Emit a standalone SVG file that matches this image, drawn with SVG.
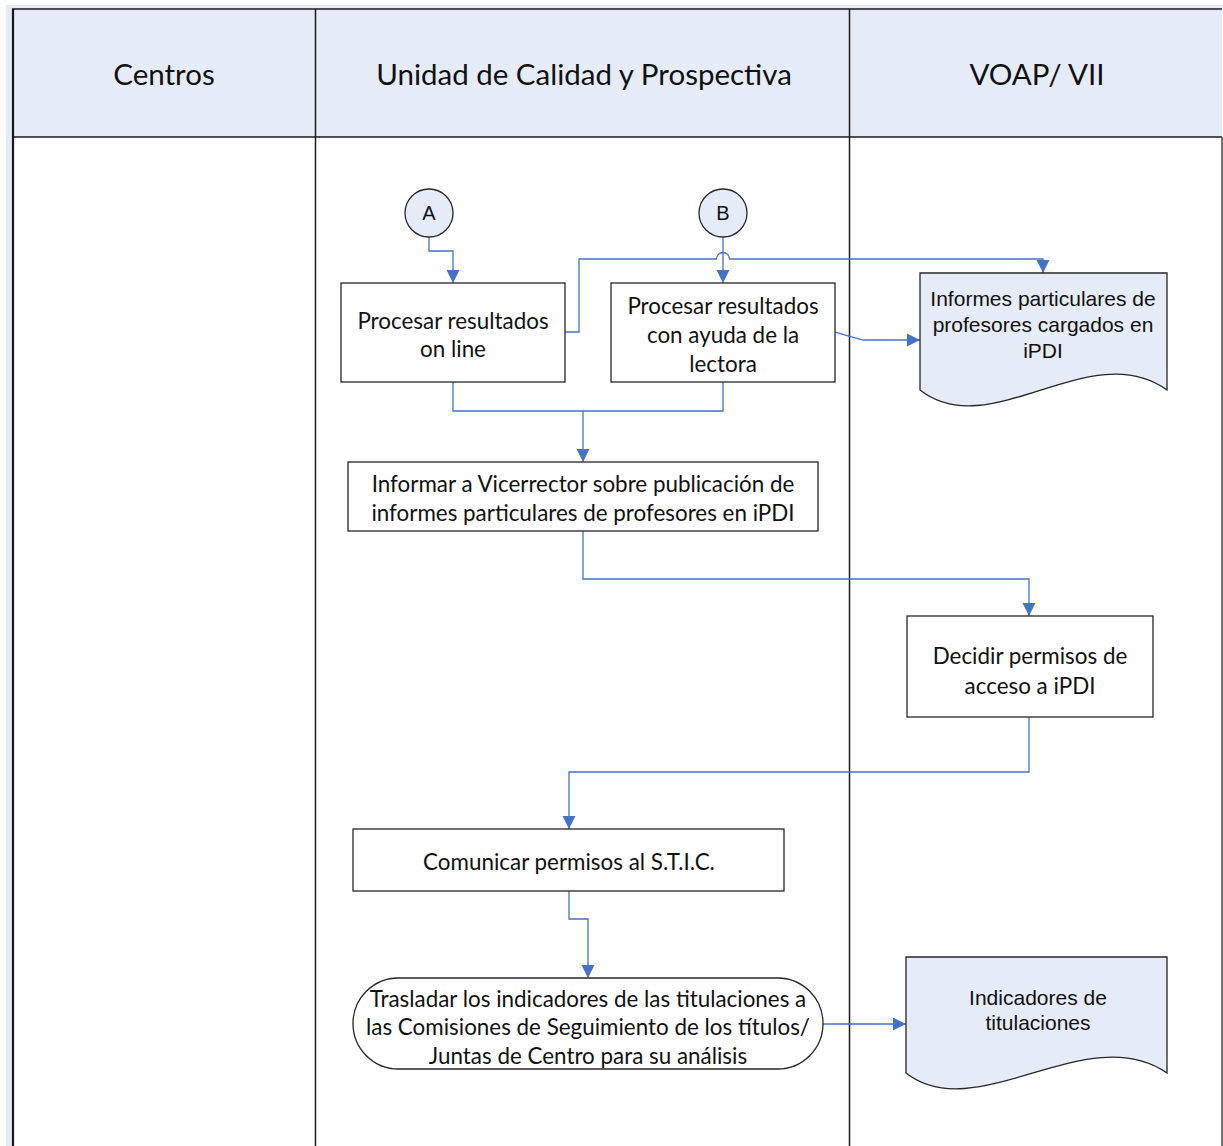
<svg xmlns="http://www.w3.org/2000/svg" width="1223" height="1146" viewBox="0 0 1223 1146">
<style>
.lane{stroke:#1a1a1a;stroke-width:1.5;fill:none}
.box{fill:#ffffff;stroke:#262626;stroke-width:1.3}
.doc{fill:#E6ECF7;stroke:#262626;stroke-width:1.3}
.conn{fill:none;stroke:#4472C4;stroke-width:1.3}
.hdr{font-family:Lato,"Liberation Sans",sans-serif;font-size:29.5px;fill:#111;text-anchor:middle;dominant-baseline:central}
.t{font-family:Lato,"Liberation Sans",sans-serif;font-size:22.4px;fill:#111;text-anchor:middle;dominant-baseline:central}
.a{font-family:"Liberation Sans",Arial,sans-serif;font-size:21px;fill:#111;text-anchor:middle;dominant-baseline:central}
</style>
<defs>
<marker id="arr" markerUnits="userSpaceOnUse" markerWidth="14" markerHeight="14" refX="13" refY="6.5" orient="auto">
<path d="M0,0 L13,6.5 L0,13 z" fill="#4472C4"/>
</marker>
</defs>
<rect width="1223" height="1146" fill="#ffffff"/>
<g id="lanes">
<rect x="6" y="5" width="1217" height="4" fill="#E6ECF7"/>
<rect x="6" y="5" width="6" height="1141" fill="#E6ECF7"/>
<rect x="13" y="9" width="1209" height="128" fill="#E6ECF7"/>
<line class="lane" x1="12" y1="9" x2="1222" y2="9" stroke="#555"/>
<line class="lane" x1="13" y1="9" x2="13" y2="1146" style="stroke-width:2.2"/>
<line class="lane" x1="12" y1="137" x2="1222" y2="137"/>
<line class="lane" x1="315.5" y1="9" x2="315.5" y2="1146"/>
<line class="lane" x1="849.5" y1="9" x2="849.5" y2="1146"/>
<line class="lane" x1="1222" y1="137" x2="1222" y2="1146" style="stroke:#444"/>
<text class="hdr" x="164" y="73">Centros</text>
<text class="hdr" x="584" y="73">Unidad de Calidad y Prospectiva</text>
<text class="hdr" x="1037" y="73">VOAP/ VII</text>
</g>
<g id="connectors">
<path class="conn" d="M429,237 V251 H453 V283" marker-end="url(#arr)"/>
<path class="conn" d="M723,237 V283" marker-end="url(#arr)"/>
<path class="conn" d="M565,332 H579 V259 H716.5 A6.5,6.5 0 0 1 729.5,259 H1043 V273" marker-end="url(#arr)"/>
<path class="conn" d="M835,332 L863,340 H920" marker-end="url(#arr)"/>
<path class="conn" d="M453,382 V411 H723 V382"/>
<path class="conn" d="M583,411 V462" marker-end="url(#arr)"/>
<path class="conn" d="M583,531 V579 H1029 V616" marker-end="url(#arr)"/>
<path class="conn" d="M1029,717 V772 H569 V829" marker-end="url(#arr)"/>
<path class="conn" d="M569,891 V919 H588 V978" marker-end="url(#arr)"/>
<path class="conn" d="M823,1024 H906" marker-end="url(#arr)"/>
</g>
<g id="nodeA">
<circle class="doc" cx="429" cy="213" r="24"/>
<text class="a" x="429" y="213" style="font-size:20px">A</text>
</g>
<g id="nodeB">
<circle class="doc" cx="723" cy="213" r="24"/>
<text class="a" x="723" y="213" style="font-size:20px">B</text>
</g>
<g id="procOnline">
<rect class="box" x="341" y="283" width="224" height="99"/>
<text class="t" x="453" y="320">Procesar resultados</text>
<text class="t" x="453" y="348">on line</text>
</g>
<g id="procLectora">
<rect class="box" x="611" y="283" width="224" height="99"/>
<text class="t" x="723" y="305">Procesar resultados</text>
<text class="t" x="723" y="334">con ayuda de la</text>
<text class="t" x="723" y="363">lectora</text>
</g>
<g id="docInformes">
<path class="doc" d="M920,273 H1167 V390 C1090,335 990,445 920,390 Z"/>
<text class="a" x="1043" y="298">Informes particulares de</text>
<text class="a" x="1043" y="324">profesores cargados en</text>
<text class="a" x="1043" y="350">iPDI</text>
</g>
<g id="informar">
<rect class="box" x="348" y="462" width="470" height="69"/>
<text class="t" x="583" y="483">Informar a Vicerrector sobre publicación de</text>
<text class="t" x="583" y="512">informes particulares de profesores en iPDI</text>
</g>
<g id="decidir">
<rect class="box" x="907" y="616" width="246" height="101"/>
<text class="t" x="1030" y="655">Decidir permisos de</text>
<text class="t" x="1030" y="685">acceso a iPDI</text>
</g>
<g id="comunicar">
<rect class="box" x="353" y="829" width="431" height="62"/>
<text class="t" x="569" y="861">Comunicar permisos al S.T.I.C.</text>
</g>
<g id="trasladar">
<rect class="box" x="353" y="978" width="470" height="91" rx="45.5" ry="45.5"/>
<text class="t" x="588" y="998">Trasladar los indicadores de las titulaciones a</text>
<text class="t" x="588" y="1026">las Comisiones de Seguimiento de los títulos/</text>
<text class="t" x="588" y="1055">Juntas de Centro para su análisis</text>
</g>
<g id="docIndicadores">
<path class="doc" d="M906,957 H1167 V1073 C1087,1018 976,1128 906,1073 Z"/>
<text class="a" x="1038" y="997">Indicadores de</text>
<text class="a" x="1038" y="1022">titulaciones</text>
</g>
</svg>
